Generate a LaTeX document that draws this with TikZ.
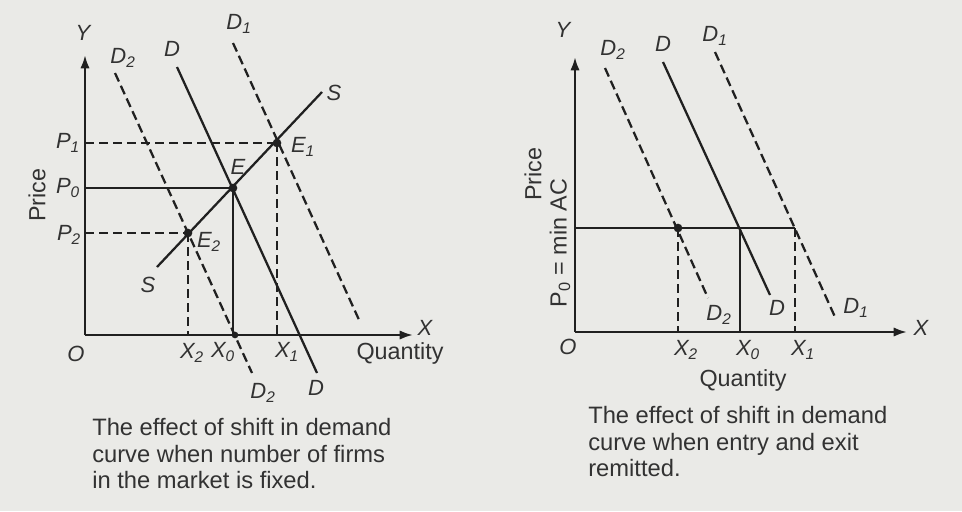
\documentclass[tikz,border=0pt]{standalone}
\usepackage{fontspec}
\setmainfont{Liberation Sans}
\usetikzlibrary{arrows.meta}
\definecolor{paper}{RGB}{234,234,231}
\definecolor{ink}{RGB}{32,32,32}
\definecolor{txt}{RGB}{50,50,50}
\tikzset{
 axis/.style={draw=ink, line width=1.8pt, -{Latex[length=10pt,width=7pt]}},
 curve/.style={draw=ink, line width=1.7pt},
 dcurve/.style={draw=ink, line width=1.7pt, dash pattern=on 7pt off 3.5pt},
 lbl/.style={text=txt, font=\fontsize{16.5}{19}\selectfont\itshape, inner sep=0pt},
 wlbl/.style={text=txt, font=\fontsize{17.5}{20}\selectfont, inner sep=0pt},
 captxt/.style={text=txt, font=\fontsize{17.8}{20}\selectfont, align=left, anchor=north west, inner sep=0pt},
 dot/.style={circle, fill=ink, inner sep=0pt, minimum size=6.5pt},
 sdot/.style={circle, fill=ink, inner sep=0pt, minimum size=5pt},
}
\begin{document}
\begin{tikzpicture}[x=0.75pt,y=-0.75pt]
\fill[paper] (0,0) rectangle (962,511);
\useasboundingbox (0,0) rectangle (962,511);

% ---------- left diagram ----------
\coordinate (O1) at (85,335);
\coordinate (Ytop1) at (85,55);
\coordinate (Xend1) at (413,335);
\coordinate (E) at (233,188);
\coordinate (E1) at (277,143);
\coordinate (E2) at (188,233);
\coordinate (P1a) at (85,143);
\coordinate (P0a) at (85,188);
\coordinate (P2a) at (85,233);
\coordinate (X2a) at (188,335);
\coordinate (X0a) at (233,335);
\coordinate (X1a) at (277,335);
\coordinate (Slo) at (157,267);
\coordinate (Shi) at (322,92);
\coordinate (Dtop) at (177,67);
\coordinate (Dbot) at (317,373);
\coordinate (D1top) at (233,43);
\coordinate (D1bot) at (360,322);
\coordinate (D2top) at (115,73);
\coordinate (D2bot) at (252,373);

\draw[axis] (O1) -- (Ytop1);
\draw[axis] (O1) -- (Xend1);
\draw[dcurve] (P1a) -- (E1);
\draw[curve] (P0a) -- (E);
\draw[dcurve] (P2a) -- (E2);
\draw[dcurve] (E1) -- (X1a);
\draw[curve] (E) -- (X0a);
\draw[dcurve] (E2) -- (X2a);
\draw[curve] (Slo) -- (Shi);
\draw[curve] (Dtop) -- (Dbot);
\draw[dcurve] (D1top) -- (D1bot);
\draw[dcurve] (D2top) -- (D2bot);
\node[dot] (dE) at (E) {};
\node[dot] (dE1) at (E1) {};
\node[dot] (dE2) at (E2) {};
\node[sdot] (dX0) at (235,335) {};

\node[lbl] (lY1) at (83,33) {Y};
\node[lbl] (lX1) at (425,328) {X};
\node[lbl] (lO1) at (76,354) {O};
\node[wlbl] (lQ1) at (400,353) {Quantity};
\node[wlbl, rotate=90] (lPr1) at (37,195) {Price};
\node[lbl] (lP1) at (68,143) {P\textsubscript{1}};
\node[lbl] (lP0) at (68,188) {P\textsubscript{0}};
\node[lbl] (lP2) at (69,235) {P\textsubscript{2}};
\node[lbl] (lE) at (238,167) {E};
\node[lbl] (lE1) at (303,147) {E\textsubscript{1}};
\node[lbl] (lE2) at (209,242) {E\textsubscript{2}};
\node[lbl] (lSlo) at (148,285) {S};
\node[lbl] (lShi) at (334,93) {S};
\node[lbl] (lDt) at (172,49) {D};
\node[lbl] (lD2t) at (123,58) {D\textsubscript{2}};
\node[lbl] (lD1t) at (239,24) {D\textsubscript{1}};
\node[lbl] (lDb) at (316,388) {D};
\node[lbl] (lD2b) at (263,393) {D\textsubscript{2}};
\node[lbl] (lX2) at (192,353) {X\textsubscript{2}};
\node[lbl] (lX0) at (223,352) {X\textsubscript{0}};
\node[lbl] (lX1l) at (287,352) {X\textsubscript{1}};

\node[captxt] (cap1) at (92,418) {The effect of shift in demand\\curve when number of firms\\in the market is fixed.};

% ---------- right diagram ----------
\coordinate (O2) at (575,332);
\coordinate (Ytop2) at (575,57);
\coordinate (Xend2) at (907,332);
\coordinate (Pa) at (575,228);
\coordinate (Q2) at (678,228);
\coordinate (Q0) at (740,228);
\coordinate (Q1) at (795,228);
\coordinate (Q2a) at (678,332);
\coordinate (Q0a) at (740,332);
\coordinate (Q1a) at (795,332);
\coordinate (rD2top) at (605,68);
\coordinate (rD2bot) at (708,298);
\coordinate (rDtop) at (663,62);
\coordinate (rDbot) at (770,295);
\coordinate (rD1top) at (715,52);
\coordinate (rD1bot) at (835,317);

\draw[axis] (O2) -- (Ytop2);
\draw[axis] (O2) -- (Xend2);
\draw[curve] (Pa) -- (Q1);
\draw[dcurve] (Q2) -- (Q2a);
\draw[curve] (Q0) -- (Q0a);
\draw[dcurve] (Q1) -- (Q1a);
\draw[dcurve] (rD2top) -- (rD2bot);
\draw[curve] (rDtop) -- (rDbot);
\draw[dcurve] (rD1top) -- (rD1bot);
\node[dot] (dQ2) at (Q2) {};

\node[lbl] (rY) at (563,30) {Y};
\node[lbl] (rX) at (921,328) {X};
\node[lbl] (rO) at (568,347) {O};
\node[lbl] (rlD2t) at (613,50) {D\textsubscript{2}};
\node[lbl] (rlDt) at (663,44) {D};
\node[lbl] (rlD1t) at (715,36) {D\textsubscript{1}};
\node[lbl] (rlD2b) at (719,315) {D\textsubscript{2}};
\node[lbl] (rlDb) at (777,308) {D};
\node[lbl] (rlD1b) at (856,308) {D\textsubscript{1}};
\node[lbl] (rlX2) at (686,350) {X\textsubscript{2}};
\node[lbl] (rlX0) at (748,350) {X\textsubscript{0}};
\node[lbl] (rlX1) at (803,350) {X\textsubscript{1}};
\node[wlbl] (rQ) at (743,380) {Quantity};
\node[wlbl, rotate=90] (rPr) at (533,174) {Price};
\node[wlbl, rotate=90] (rPmin) at (560,243) {P\textsubscript{0} = min AC};

\node[captxt] (cap2) at (588,406) {The effect of shift in demand\\curve when entry and exit\\remitted.};
\end{tikzpicture}
\end{document}
